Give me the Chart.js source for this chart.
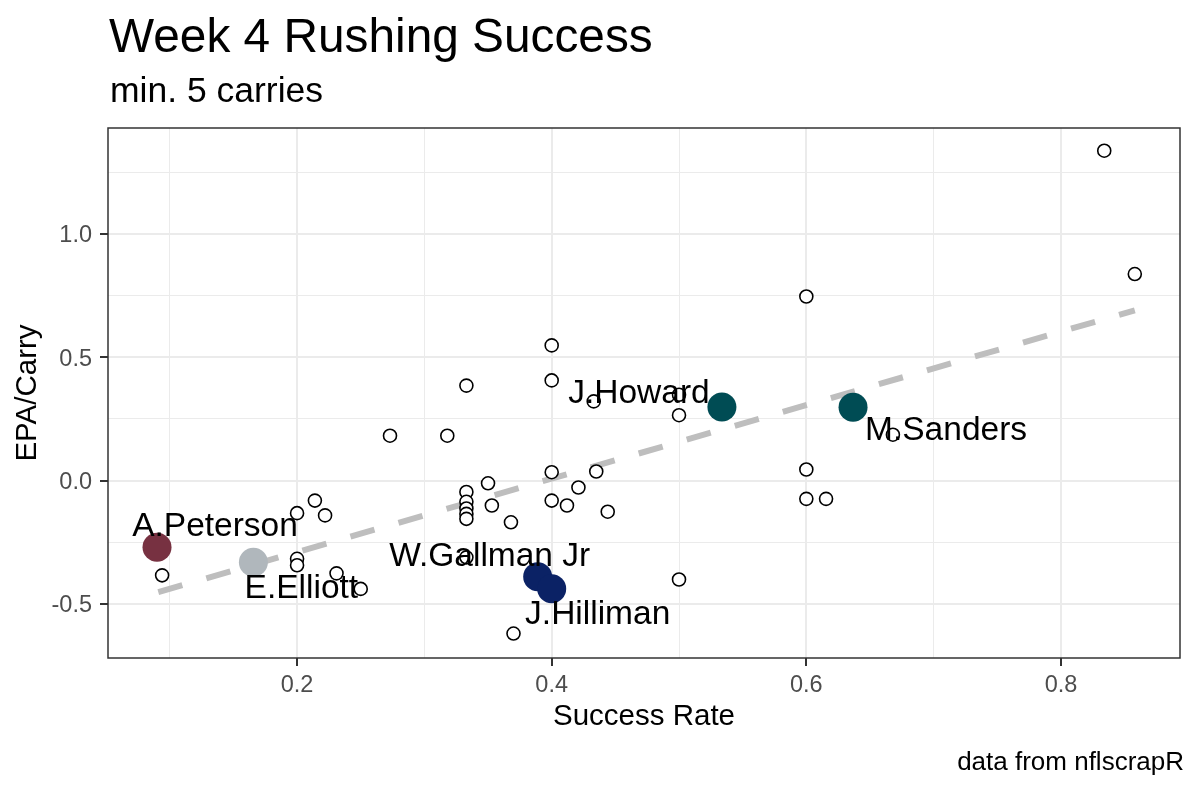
<!DOCTYPE html>
<html>
<head>
<meta charset="utf-8">
<title>Week 4 Rushing Success</title>
<script src="https://cdn.jsdelivr.net/npm/chart.js@4.4.1/dist/chart.umd.min.js"></script>
<style>
  body { margin: 0; background: #fff; font-family: "Liberation Sans", Arial, sans-serif; }
  #wrap { position: relative; width: 1200px; height: 790px; }
  #chart { position: absolute; left: 0; top: 0; }
  .title { position: absolute; left: 109px; top: 12px; font-size: 47.8px; line-height: 1; color: #000; white-space: nowrap; }
  .subtitle { position: absolute; left: 110px; top: 73px; font-size: 35.5px; line-height: 1; color: #000; white-space: nowrap; }
  .caption { position: absolute; right: 16px; top: 748px; font-size: 26px; line-height: 1; color: #000; white-space: nowrap; }
</style>
</head>
<body>
<div id="wrap">
  <canvas id="chart" width="1200" height="790"></canvas>
  <div class="title">Week 4 Rushing Success</div>
  <div class="subtitle">min. 5 carries</div>
  <div class="caption">data from nflscrapR</div>
</div>
<script>
/* DATA */
// every rusher with 5+ carries (open circles)
const successRate = [0.094, 0.200, 0.214, 0.222, 0.200, 0.200, 0.231, 0.250, 0.273, 0.318,
  0.333, 0.333, 0.333, 0.333, 0.333, 0.333, 0.333, 0.350, 0.353, 0.368,
  0.370, 0.400, 0.400, 0.400, 0.400, 0.412, 0.421, 0.433, 0.435, 0.444,
  0.500, 0.500, 0.500, 0.600, 0.600, 0.600, 0.6155, 0.668, 0.834, 0.858];
const epaPerCarry = [-0.384, -0.132, -0.081, -0.141, -0.317, -0.343, -0.376, -0.439, 0.182, 0.182,
  0.385, -0.046, -0.086, -0.113, -0.135, -0.155, -0.311, -0.011, -0.101, -0.169,
  -0.620, 0.548, 0.406, 0.034, -0.081, -0.101, -0.028, 0.321, 0.037, -0.126,
  0.348, 0.265, -0.401, 0.746, 0.045, -0.074, -0.074, 0.186, 1.337, 0.837];

// highlighted players
const highlightNames = ["A.Peterson", "E.Elliott", "W.Gallman Jr", "J.Hilliman", "J.Howard", "M.Sanders"];
const highlightSuccess = [0.090, 0.1657, 0.389, 0.400, 0.5337, 0.6367];
const highlightEpa = [-0.270, -0.331, -0.390, -0.438, 0.298, 0.297];
const teamColors = ["#773141", "#b0b7bc", "#0b2265", "#0b2265", "#004c54", "#004c54"];

// linear fit, read at its two ends
const trendSuccess = [0.091, 0.858];
const trendEpa = [-0.452, 0.690];

// labelled ticks
const xTicks = [0.2, 0.4, 0.6, 0.8];
const yTicks = [-0.5, 0.0, 0.5, 1.0];

// label offsets from each highlighted point, in pixels
const labelNudge = [[58, -20], [48, 27], [-48, -20], [46, 26], [-83, -13], [93, 23]];

const FONT = "'Liberation Sans', Arial, sans-serif";
const isMajor = (list, v) => list.some(t => Math.abs(t - v) < 1e-6);

/* PANEL BORDER */
const panelBorder = {
  id: "panelBorder",
  afterDraw(chart) {
    const { ctx, chartArea: a } = chart;
    ctx.save();
    ctx.strokeStyle = "#333333";
    ctx.lineWidth = 1.5;
    ctx.strokeRect(a.left, a.top, a.right - a.left, a.bottom - a.top);
    ctx.restore();
  }
};

/* PLAYER LABELS */
const playerLabels = {
  id: "playerLabels",
  afterDatasetsDraw(chart) {
    const { ctx, scales: { x, y } } = chart;
    ctx.save();
    ctx.font = "33.5px " + FONT;
    ctx.fillStyle = "#000";
    ctx.textAlign = "center";
    ctx.textBaseline = "middle";
    highlightNames.forEach((name, i) => {
      const px = x.getPixelForValue(highlightSuccess[i]) + labelNudge[i][0];
      const py = y.getPixelForValue(highlightEpa[i]) + labelNudge[i][1];
      ctx.fillText(name, px, py);
    });
    ctx.restore();
  }
};

/* CHART */
new Chart(document.getElementById("chart"), {
  type: "scatter",
  data: {
    datasets: [
      {
        type: "line",
        data: trendSuccess.map((v, i) => ({ x: v, y: trendEpa[i] })),
        borderColor: "#bebebe",
        borderWidth: 6,
        borderDash: [25, 25],
        borderCapStyle: "butt",
        pointRadius: 0,
        fill: false,
        order: 3
      },
      {
        data: successRate.map((v, i) => ({ x: v, y: epaPerCarry[i] })),
        pointRadius: 6.5,
        pointBorderWidth: 1.6,
        pointBorderColor: "#000",
        pointBackgroundColor: "#fff",
        order: 2
      },
      {
        data: highlightSuccess.map((v, i) => ({ x: v, y: highlightEpa[i] })),
        pointRadius: 14.5,
        pointBorderWidth: 0,
        pointBackgroundColor: teamColors,
        pointBorderColor: teamColors,
        order: 1
      }
    ]
  },
  options: {
    responsive: false,
    devicePixelRatio: 1,
    animation: false,
    events: [],
    layout: { padding: { left: 0, right: 20, top: 128, bottom: 52 } },
    plugins: { legend: { display: false }, tooltip: { enabled: false } },
    scales: {
      x: {
        type: "linear",
        min: 0.0515,
        max: 0.8935,
        afterFit: s => { s.height = 80; },
        border: { display: false },
        grid: {
          color: "#ebebeb",
          lineWidth: c => isMajor(xTicks, c.tick.value) ? 2 : 1,
          tickLength: 8,
          tickWidth: 2,
          tickColor: c => isMajor(xTicks, c.tick.value) ? "#333333" : "rgba(0,0,0,0)"
        },
        ticks: {
          stepSize: 0.1,
          includeBounds: false,
          autoSkip: false,
          maxRotation: 0,
          padding: 5,
          color: "#4d4d4d",
          font: { family: FONT, size: 23.5 },
          callback: v => isMajor(xTicks, v) ? v.toFixed(1) : ""
        },
        title: {
          display: true,
          text: "Success Rate",
          color: "#000",
          font: { family: FONT, size: 29.5 },
          padding: { top: 0, bottom: 3 }
        }
      },
      y: {
        type: "linear",
        min: -0.719,
        max: 1.429,
        afterFit: s => { s.width = 108; },
        border: { display: false },
        grid: {
          color: "#ebebeb",
          lineWidth: c => isMajor(yTicks, c.tick.value) ? 2 : 1,
          tickLength: 8,
          tickWidth: 2,
          tickColor: c => isMajor(yTicks, c.tick.value) ? "#333333" : "rgba(0,0,0,0)"
        },
        ticks: {
          stepSize: 0.25,
          includeBounds: false,
          autoSkip: false,
          padding: 8,
          labelOffset: 2,
          color: "#4d4d4d",
          font: { family: FONT, size: 23.5 },
          callback: v => isMajor(yTicks, v) ? v.toFixed(1) : ""
        },
        title: {
          display: true,
          text: "EPA/Carry",
          color: "#000",
          font: { family: FONT, size: 29.5 },
          padding: { top: 10, bottom: 0 }
        }
      }
    }
  },
  plugins: [panelBorder, playerLabels]
});
</script>
</body>
</html>
